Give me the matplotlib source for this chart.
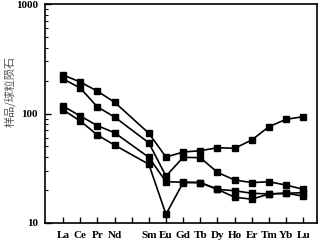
import numpy as np
import matplotlib
matplotlib.use("Agg")
from matplotlib import pyplot as plt
from matplotlib.ticker import LogLocator, NullFormatter, FixedLocator

elements = ["La", "Ce", "Pr", "Nd", "", "Sm", "Eu", "Gd", "Tb", "Dy",
            "Ho", "Er", "Tm", "Yb", "Lu"]
ree = ["La", "Ce", "Pr", "Nd", "Sm", "Eu", "Gd", "Tb", "Dy",
       "Ho", "Er", "Tm", "Yb", "Lu"]

s1 = [225, 194, 160, 127, 66, 40, 44.5, 45.7, 48.7, 48.1, 57.3, 75.8, 88.5, 93.5]
s2 = [207, 171, 115, 93, 54, 26.8, 39.8, 39.5, 29.0, 24.7, 23.4, 23.8, 22.2, 20.3]
s3 = [117, 95, 77.5, 66.8, 39.8, 23.8, 23.6, 23.4, 20.3, 19.7, 18.7, 18.4, 18.7, 17.6]
s4 = [108, 85.5, 63.7, 51.5, 34.4, 12.0, 23.4, 23.4, 20.3, 17.2, 16.5, 18.4, 18.7, 18.9]

# positions of plotted elements on the 15-slot axis (Pm slot left empty)
pos = [elements.index(e) + 1 for e in ree]

fig = plt.figure(figsize=(3.21, 2.41), dpi=100)
ax = fig.add_axes([45 / 321, 18 / 241, 272 / 321, 219 / 241])

for s in (s1, s2, s3, s4):
    ax.plot(pos, s, color="black", lw=1.2, marker="s", ms=4,
            markerfacecolor="black", markeredgecolor="black")

ax.set_yscale("log")
ax.set_ylim(10, 1000)
ax.set_xlim(-0.05, 15.8)

ax.xaxis.set_major_locator(FixedLocator(range(1, 16)))
ax.set_xticklabels(elements, fontfamily="Liberation Serif",
                   fontweight="bold", fontsize=8)
ax.tick_params(axis="x", direction="in", length=4, width=1, pad=6,
               top=False)

ax.yaxis.set_major_locator(LogLocator(base=10, numticks=5))
ax.yaxis.set_minor_locator(LogLocator(base=10, subs=np.arange(2, 10), numticks=5))
ax.yaxis.set_minor_formatter(NullFormatter())
ax.set_yticks([10, 100, 1000])
ax.set_yticklabels(["10", "100", "1000"], fontfamily="Liberation Serif",
                   fontweight="bold", fontsize=8)
ax.tick_params(axis="y", which="major", direction="in", length=4, width=1,
               pad=5, right=False)
ax.tick_params(axis="y", which="minor", direction="in", length=2.5,
               width=0.8, right=False)

for sp in ax.spines.values():
    sp.set_linewidth(1.2)

ax.set_ylabel("样品/球粒陨石", fontfamily=["Noto Sans CJK SC", "DejaVu Sans"],
              fontsize=8, color="#555555")
ax.yaxis.set_label_coords(-0.108, 0.6)

fig.savefig("out.png", dpi=100)
